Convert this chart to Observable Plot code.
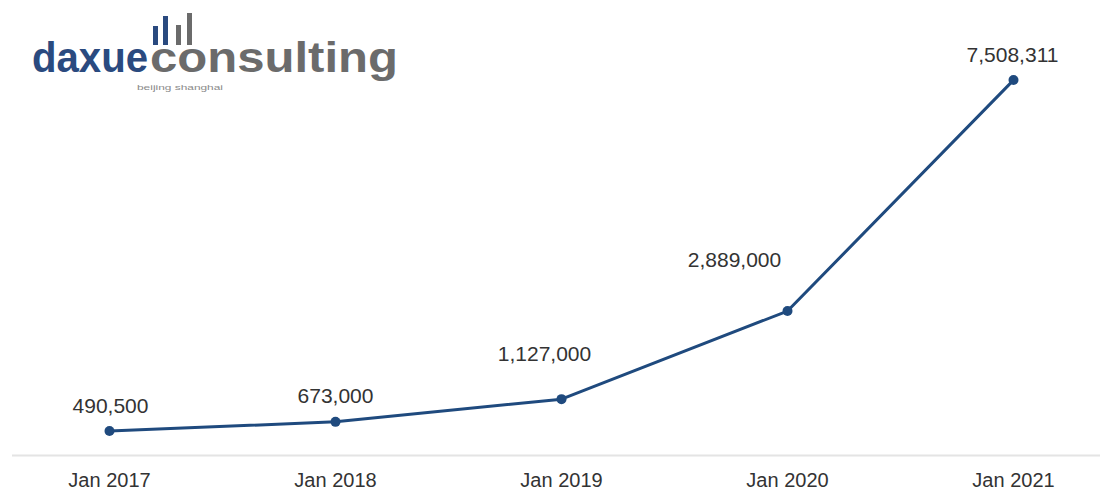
<!DOCTYPE html>
<html>
<head>
<meta charset="utf-8">
<script src="https://cdn.jsdelivr.net/npm/d3@7"></script>
<script src="https://cdn.jsdelivr.net/npm/@observablehq/plot@0.6"></script>
<style>
  html, body { margin: 0; padding: 0; background: #fff; }
  #wrap { position: relative; width: 1107px; height: 491px; overflow: hidden; font-family: "Liberation Sans", Arial, sans-serif; }
  #logo { position: absolute; left: 0; top: 0; }
</style>
</head>
<body>
<div id="wrap">
  <div id="chart"></div>
  <svg id="logo" width="420" height="100" xmlns="http://www.w3.org/2000/svg">
    <rect x="153" y="26" width="5" height="19" fill="#2a4a7f"></rect>
    <rect x="163" y="16" width="5" height="29" fill="#2a4a7f"></rect>
    <rect x="176" y="25" width="5" height="20" fill="#6b6b6b"></rect>
    <rect x="187" y="13" width="5" height="32" fill="#6b6b6b"></rect>
    <text x="32" y="72" font-family="Liberation Sans, Arial, sans-serif" font-weight="bold" font-size="43" fill="#2a4a7f" textLength="116" lengthAdjust="spacingAndGlyphs">daxue</text>
    <text x="150" y="72" font-family="Liberation Sans, Arial, sans-serif" font-weight="bold" font-size="43" fill="#6b6b6b" textLength="248" lengthAdjust="spacingAndGlyphs">consulting</text>
    <text x="137" y="90" font-family="Liberation Sans, Arial, sans-serif" font-size="8" fill="#8a8a8a" textLength="86" lengthAdjust="spacingAndGlyphs">beijing shanghai</text>
  </svg>
</div>
<script>
const months = ["Jan 2017", "Jan 2018", "Jan 2019", "Jan 2020", "Jan 2021"];
const values = [490500, 673000, 1127000, 2889000, 7508311];

const data = months.map((m, i) => ({month: m, value: values[i]}));
const color = "#1f4a7e";
const fmt = d3.format(",");

function label(i, dx, dy) {
  return Plot.text(data, {
    filter: (d, j) => j === i,
    x: "month", y: "value",
    text: d => fmt(d.value),
    dx, dy,
    lineAnchor: "bottom",
    textAnchor: "middle",
    fontSize: 21,
    fill: "#333"
  });
}

const chart = Plot.plot({
  width: 1107,
  height: 491,
  marginLeft: 109,
  marginRight: 94,
  marginTop: 55,
  marginBottom: 36,
  style: {fontFamily: "Liberation Sans, Arial, sans-serif", background: "transparent"},
  x: {type: "point", domain: months, padding: 0, label: null},
  y: {domain: [0, 8000000], axis: null},
  marks: [
    Plot.ruleY([0], {stroke: "#e4e4e4", strokeWidth: 2, insetLeft: -97, insetRight: -87}),
    Plot.axisX({tickSize: 0, tickPadding: 17, fontSize: 20, fill: "#333", label: null}),
    Plot.line(data, {x: "month", y: "value", stroke: color, strokeWidth: 3}),
    Plot.dot(data, {x: "month", y: "value", r: 5, fill: color}),
    label(0, 1, -18),
    label(1, 0, -19),
    label(2, -17, -38),
    label(3, -53, -44),
    label(4, -1, -18)
  ]
});
document.getElementById("chart").appendChild(chart);
</script>
</body>
</html>
